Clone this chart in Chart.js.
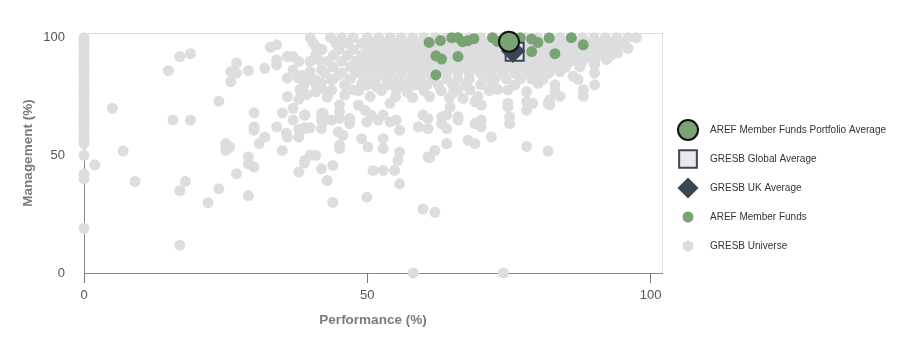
<!DOCTYPE html>
<html>
<head>
<meta charset="utf-8">
<script src="https://cdn.jsdelivr.net/npm/chart.js@4.4.1/dist/chart.umd.min.js"></script>
<style>
  body { margin: 0; background: #fff; }
  #wrap { width: 900px; height: 337px; }
</style>
</head>
<body>
<div id="wrap"><canvas id="myChart" width="900" height="337"></canvas></div>
<script>
// series names, in legend order
const seriesNames = [
  "AREF Member Funds Portfolio Average",
  "GRESB Global Average",
  "GRESB UK Average",
  "AREF Member Funds",
  "GRESB Universe",
];
const xTicks = [0, 50, 100];
const yTicks = [0, 50, 100];

// [performance, management]
const portfolioAvg = [[75, 98.3]];
const globalAvg = [[76, 94]];
const ukAvg = [[75.7, 94.4]];

const arefFunds = [
  [60.9, 98], [62.9, 98.8], [64.9, 100], [66, 100], [66.8, 98.3], [67.7, 98.7],
  [68.8, 99.6], [72.1, 100], [73, 98.4], [75.7, 100], [77, 100], [79, 99.4],
  [80.1, 98], [82.1, 99.9], [86, 100], [88.1, 97], [79, 94.1], [83.1, 93.2],
  [62.1, 92.3], [63.1, 90.9], [66, 92], [62.1, 84.2], [75.1, 93.6],
];

const gresbUniverse = [
  // zero performance column
  [0, 100], [0, 98], [0, 96], [0, 94], [0, 92], [0, 90], [0, 88], [0, 86], [0, 84],
  [0, 82], [0, 80], [0, 78], [0, 76], [0, 74], [0, 72], [0, 70], [0, 68], [0, 66],
  [0, 64], [0, 62], [0, 60], [0, 58], [0, 56], [0, 55], [0, 50], [0, 42], [0, 40], [0, 19],
  // left scatter
  [1.9, 46], [5, 70], [6.9, 51.8], [9, 38.9], [14.9, 86], [16.9, 92], [18.8, 93.2],
  [15.7, 65], [18.8, 65], [16.9, 35], [17.9, 38.9], [16.9, 11.8], [21.9, 29.9],
  [23.8, 73], [23.8, 35.8], [25.9, 85.6], [26.9, 89.2], [25.9, 81.3], [26.9, 84.9],
  [29, 86], [25, 55], [25, 52.1], [25.7, 53.5], [26.9, 42.2], [29, 49.3], [29, 46.4],
  [30, 45], [29, 32.9], [30, 68.1], [30, 62.1], [30, 60.7], [30.9, 55], [31.9, 57.8],
  [31.9, 87], [32.9, 95.9], [34, 97], [34, 90.6], [34, 88.5], [34, 62.1], [35, 68.1],
  [35, 52.1], [35.9, 92], [36.9, 92], [35.9, 82.8], [35.9, 75], [35.9, 57.8], [36.9, 70],
  [36.9, 65], [36.9, 86.3], [37.9, 89.9], [37.9, 73.8], [37.9, 61], [37.9, 57.8],
  [37.9, 42.9], [38.9, 46.7], [38.9, 67.1], [38.9, 61.7], [39.9, 100], [39.9, 89.9],
  [39.9, 85.6], [39.9, 82], [39.9, 61.7], [39.9, 50], [40.9, 50], [40.9, 96.3],
  [40.9, 92.7], [40.9, 82], [40.9, 77], [41.9, 86.3], [41.9, 80.6], [41.9, 78.5],
  [41.9, 67.8], [41.9, 65], [41.9, 61.4], [41.9, 44.3], [42.9, 74.7], [42.9, 39.3],
  [43.9, 45.7], [43.9, 30], [37.8, 82.9], [38.7, 79.4], [38.1, 77.9], [39.3, 75.8],
  [35.7, 59.4], [40.4, 97.9], [38.5, 84], [41.5, 90.5],
  // middle scatter
  [39, 80.6], [38.7, 76.4], [41, 79.9], [43.1, 76.4], [43.7, 77.8], [46, 75.6],
  [43.7, 82], [45.1, 84.2], [47.5, 77.8], [49.9, 79.9], [51.6, 79.2], [53.4, 79.9],
  [55.1, 77.8], [57.5, 79.2], [54, 72.1], [39, 67.1], [42.2, 67.8], [42.2, 64.2],
  [45.1, 71.4], [45.1, 68.5], [43.7, 65], [45.1, 65.7], [46.9, 65.7], [46.9, 63.5],
  [48.4, 71.4], [49.6, 69.2], [50.7, 67.1], [49.9, 64.2], [51.9, 65], [52.8, 67.1],
  [54, 64.2], [55.1, 65], [55.7, 60.7], [59, 62.1], [39, 61.4], [44.9, 60], [45.7, 58.5],
  [45.1, 54.3], [45.1, 52.9], [49, 57.1], [50.1, 53.5], [52.8, 57.1], [52.8, 52.9],
  [55.7, 51.4], [55.4, 47.9], [60.7, 49.3], [39, 47.9], [51, 43.6], [52.8, 43.6],
  [54.8, 43.6], [55.7, 37.9], [49.9, 32.2], [59.8, 27.2], [61.9, 25.8],
  // right scatter
  [68.1, 77.8], [74.8, 77.8], [76, 79.9], [78.1, 77.1], [80.1, 80.6], [81, 82.8],
  [65.1, 76.4], [66.9, 74.2], [69, 72.8], [70.1, 71.4], [74.8, 72.1], [74.8, 70.6],
  [78.1, 72.8], [79.2, 72.1], [78.1, 69.2], [81.9, 72.1], [59.8, 67.1], [60.7, 65.7],
  [63.1, 66.4], [63.1, 63.5], [64.6, 70.6], [64, 67.1], [66, 66.4], [66, 65], [69, 63.5],
  [70.1, 65], [70.1, 62.1], [75.1, 66.4], [75.1, 63.5], [60.7, 61.4], [64, 61.4],
  [71.9, 57.8], [67.8, 56.4], [69, 55], [64, 55], [61.9, 52.1], [61, 49], [78.1, 53.8],
  [81.9, 51.8], [88.1, 75.1], [88.1, 77.9], [90.1, 80], [90.1, 85], [82.2, 71.5],
  [82.2, 73.6], [84, 75.1], [83.1, 80], [83.1, 77.2], [86.3, 83.6], [87.2, 82.2], [81, 82.2],
  [58.1, 0], [74, 0],
  // dense upper band
  [43.5, 100], [45.5, 100], [47.5, 100], [50, 100], [52, 100], [54, 100], [56, 100],
  [58, 100], [60, 100], [62, 100], [64, 100], [66, 100], [68, 100], [70, 100], [72, 100],
  [74, 100], [76, 100], [78, 100], [80, 100], [82, 100], [84, 100], [86, 100], [88, 100],
  [90, 100], [92, 100], [94, 100], [96, 100], [97.5, 100],
  [44.5, 97.5], [46.5, 97.5], [49, 97.5], [51, 97.5], [53, 97.5], [55, 97.5], [57, 97.5],
  [59, 97.5], [61, 97.5], [63, 97.5], [65, 97.5], [67, 97.5], [69, 97.5], [71, 97.5],
  [73, 97.5], [75, 97.5], [77, 97.5], [79, 97.5], [81, 97.5], [83, 97.5], [85, 97.5],
  [87, 97.5], [89, 97.5], [91, 97.5], [93, 97.5], [95, 97.5],
  [42, 95], [45, 95], [47.5, 95], [50, 95], [52, 95], [54, 95], [56, 95], [58, 95],
  [60, 95], [62, 95], [64, 95], [66, 95], [68, 95], [70, 95], [72, 95], [74, 95],
  [76, 95], [78, 95], [80, 95], [82, 95], [84, 95], [86, 95], [88, 95], [90, 95],
  [92, 95], [94, 95], [96, 95.5],
  [44, 92.5], [46.5, 92.5], [49, 92.5], [51, 92.5], [53, 92.5], [55, 92.5], [57, 92.5],
  [59, 92.5], [61, 92.5], [63, 92.5], [65, 92.5], [67, 92.5], [69, 92.5], [71, 92.5],
  [73, 92.5], [75, 92.5], [77, 92.5], [79, 92.5], [81, 92.5], [83, 92.5], [85, 92.5],
  [87, 92.5], [89, 92.5], [91, 92.5], [93, 92.5], [94.2, 93.6],
  [43, 90], [45.5, 90], [48, 90], [50, 90], [52, 90], [54, 90], [56, 90], [58, 90],
  [60, 90], [62, 90], [64, 90], [66, 90], [68, 90], [70, 90], [72, 90], [74, 90],
  [76, 90], [78, 90], [80, 90], [82, 90], [84, 90], [86, 90], [88, 90], [90, 90], [92.2, 90.7],
  [44, 87.5], [47, 87.5], [49, 87.5], [51, 87.5], [53, 87.5], [55, 87.5], [57, 87.5],
  [59, 87.5], [61, 87.5], [63, 87.5], [65, 87.5], [67, 87.5], [69, 87.5], [71, 87.5],
  [73, 87.5], [75, 87.5], [77, 87.5], [79, 87.5], [81, 87.5], [83, 87.5], [85, 87.5],
  [87.5, 87.5], [90.1, 88.6],
  [42.5, 85], [45.5, 85], [48, 85], [50, 85], [52, 85], [54, 85], [56, 85], [58, 85],
  [60, 85], [62, 85], [64, 85], [66, 85], [68, 85], [70, 85], [72, 85], [74, 85],
  [76, 85], [78, 85], [80, 85], [82, 85], [84, 85.5],
  [44, 82.5], [47, 82.5], [49.5, 82.5], [51.5, 82.5], [53.5, 82.5], [55.5, 82.5],
  [57.5, 82.5], [59.5, 82.5], [61.5, 82.5], [64, 82.5], [66, 82.5], [68, 82.5],
  [70.5, 82.5], [72.5, 82.5], [74.5, 82.5], [77, 82.5], [79, 82.5],
  [46, 80], [49, 80.5], [51, 81], [54, 80.5], [56, 80], [58.5, 80], [60.5, 80],
  [62.5, 80], [65, 80], [67.5, 80], [70, 80], [72, 80],
  [48.5, 77.5], [52.5, 77.5], [57, 77], [60, 77.5], [63, 77.5], [66, 78], [71.5, 77.5],
  [73, 78], [50.5, 75], [55, 75], [58, 74.5], [61, 75], [64.5, 74.5], [69.5, 75],
];

const gray = "#dcdddf";
const green = "#7aa374";
const slate = "#3b4654";

// radii used for the legend markers (same order as seriesNames)
const legendRadius = [10, 12.5, 10.5, 5.5, 5.5];

const toXY = (arr) => arr.map((p) => ({ x: p[0], y: p[1] }));

const framePlugin = {
  id: "frame",
  beforeDatasetsDraw(chart) {
    const { ctx, chartArea: a } = chart;
    ctx.save();
    ctx.strokeStyle = "#dedede";
    ctx.lineWidth = 1;
    ctx.beginPath();
    ctx.moveTo(a.left, a.top + 0.5);
    ctx.lineTo(a.right + 0.5, a.top + 0.5);
    ctx.lineTo(a.right + 0.5, a.bottom);
    ctx.stroke();
    ctx.restore();
  },
};

const legendPlugin = {
  id: "sideLegend",
  afterDraw(chart) {
    const { ctx, chartArea: a } = chart;
    const markX = a.right + 26;
    const textX = a.right + 48;
    const y0 = a.top + 97;
    const step = 29;
    ctx.save();
    seriesNames.forEach((name, k) => {
      const ds = chart.data.datasets.find((d) => d.label === name);
      const y = y0 + k * step;
      ctx.fillStyle = ds.backgroundColor;
      ctx.strokeStyle = ds.borderColor;
      ctx.lineWidth = ds.borderWidth;
      Chart.helpers.drawPoint(
        ctx,
        { pointStyle: ds.pointStyle, radius: legendRadius[k], borderWidth: ds.borderWidth, rotation: 0 },
        markX,
        y
      );
      ctx.fillStyle = "#333";
      ctx.font = '10px "Liberation Sans", Arial, sans-serif';
      ctx.textBaseline = "middle";
      ctx.textAlign = "left";
      ctx.fillText(name, textX, y);
    });
    ctx.restore();
  },
};

const ctx = document.getElementById("myChart");
new Chart(ctx, {
  type: "scatter",
  data: {
    datasets: [
      {
        label: seriesNames[0],
        data: toXY(portfolioAvg),
        pointStyle: "circle",
        pointRadius: 10,
        backgroundColor: green,
        borderColor: "#111",
        borderWidth: 2,
        order: 0,
      },
      {
        label: seriesNames[1],
        data: toXY(globalAvg),
        pointStyle: "rect",
        pointRadius: 12.7,
        backgroundColor: "#e8e9eb",
        borderColor: slate,
        borderWidth: 2,
        order: 2,
      },
      {
        label: seriesNames[2],
        data: toXY(ukAvg),
        pointStyle: "rectRot",
        pointRadius: 12,
        backgroundColor: slate,
        borderColor: slate,
        borderWidth: 0,
        order: 1,
      },
      {
        label: seriesNames[3],
        data: toXY(arefFunds),
        pointStyle: "circle",
        pointRadius: 5.5,
        backgroundColor: green,
        borderColor: green,
        borderWidth: 0,
        order: 3,
      },
      {
        label: seriesNames[4],
        data: toXY(gresbUniverse),
        pointStyle: "circle",
        pointRadius: 5.5,
        backgroundColor: gray,
        borderColor: gray,
        borderWidth: 0,
        order: 4,
      },
    ],
  },
  options: {
    responsive: false,
    animation: false,
    clip: false,
    layout: { padding: { left: 0, right: 238, top: 33, bottom: 0 } },
    plugins: {
      legend: { display: false },
      tooltip: { enabled: false },
    },
    elements: { point: { hoverRadius: 5.5 } },
    scales: {
      x: {
        type: "linear",
        min: 0,
        max: 102,
        afterBuildTicks: (scale) => {
          scale.ticks = xTicks.map((v) => ({ value: v }));
        },
        afterFit: (scale) => {
          scale.height = 64;
        },
        grid: { drawOnChartArea: false, color: "#777", tickLength: 10 },
        border: { color: "#888", width: 1 },
        ticks: {
          color: "#555",
          padding: 5,
          maxRotation: 0,
          font: { family: '"Liberation Sans", Arial, sans-serif', size: 13 },
        },
        title: {
          display: true,
          text: "Performance (%)",
          color: "#7b7b7b",
          padding: { top: 0, bottom: 9 },
          font: { family: '"Liberation Sans", Arial, sans-serif', size: 13.5, weight: "bold" },
        },
      },
      y: {
        type: "linear",
        min: 0,
        max: 102,
        afterBuildTicks: (scale) => {
          scale.ticks = yTicks.map((v) => ({ value: v }));
        },
        afterFit: (scale) => {
          scale.width = 84;
        },
        grid: { drawOnChartArea: false, drawTicks: false },
        border: { color: "#888", width: 1 },
        ticks: {
          color: "#555",
          padding: 19,
          font: { family: '"Liberation Sans", Arial, sans-serif', size: 13 },
        },
        title: {
          display: true,
          text: "Management (%)",
          color: "#7b7b7b",
          padding: { top: 20, bottom: 0 },
          font: { family: '"Liberation Sans", Arial, sans-serif', size: 13.5, weight: "bold" },
        },
      },
    },
  },
  plugins: [framePlugin, legendPlugin],
});
</script>
</body>
</html>
